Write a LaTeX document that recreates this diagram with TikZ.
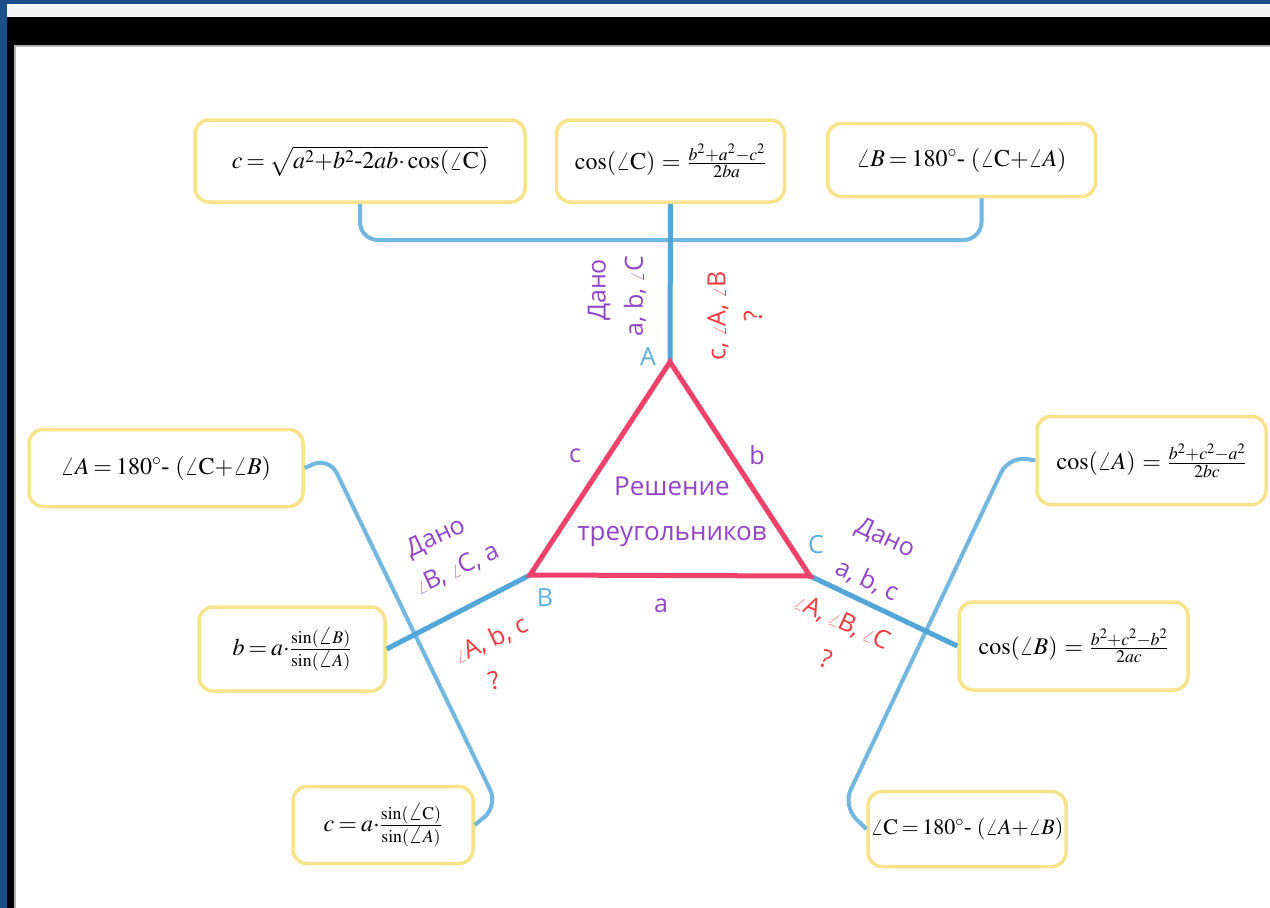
\documentclass[tikz,border=0pt]{standalone}
\usepackage{amsmath}
\usepackage{mathptmx}
\usepackage[no-math]{fontspec}
\setmainfont{Liberation Serif}
\newfontfamily\handfont{Open Sans}
\usetikzlibrary{calc,positioning}
\definecolor{frameblue}{HTML}{1E4E8A}
\definecolor{boxyellow}{HTML}{F6E38C}
\definecolor{linkblue}{HTML}{72B6E2}
\definecolor{spokeblue}{HTML}{52A6DA}
\definecolor{trired}{HTML}{F0416A}
\definecolor{givenpurple}{HTML}{9245C8}
\definecolor{findred}{HTML}{F23B3E}
\definecolor{vertexblue}{HTML}{5EAEDF}
\newcommand{\sang}{{\fontsize{17}{17}\selectfont$\angle$}}
\newcommand{\tightmath}{\thickmuskip=3mu\relax\medmuskip=2mu\relax}
\tikzset{
  formbox/.style={draw=boxyellow,line width=3.5pt,rounded corners=14pt,fill=white,inner sep=0pt,
    font=\fontsize{24}{28}\selectfont\tightmath},
  branch/.style={draw=linkblue,line width=4pt,rounded corners=18pt},
  spoke/.style={draw=spokeblue,line width=5pt},
  handlbl/.style={font=\handfont\fontsize{25}{28}\selectfont,inner sep=0pt},
  givenlbl/.style={handlbl,text=givenpurple},
  findlbl/.style={handlbl,text=findred},
  vertexlbl/.style={handlbl,text=vertexblue},
  sidelbl/.style={handlbl,text=givenpurple}
}
\begin{document}
\begin{tikzpicture}[x=1pt,y=-1pt]
\useasboundingbox (0,0) rectangle (1270,908);
% window frame
\fill[frameblue] (0,0) rectangle (1270,908);
\fill[gray!8] (7,4) rectangle (1270,17);
\fill[black] (7,17) rectangle (1270,46);
\fill[black] (7,17) rectangle (15,908);
\fill[gray!60] (14,45) rectangle (1270,47);
\fill[gray!60] (14,45) rectangle (16,908);
\fill[white] (16,47) rectangle (1270,908);

% triangle
\coordinate (A) at (670,362);
\coordinate (B) at (530,575);
\coordinate (C) at (810,576);

% formula boxes
\node[formbox,minimum width=330,minimum height=82] (cLaw) at (360,161)
  {$c=\sqrt{a^2{+}b^2\text{-}2ab{\cdot}\cos(\angle\mathrm{C})}$};
\node[formbox,minimum width=228,minimum height=82] (cosC) at (670.5,161)
  {$\cos(\angle\mathrm{C})\,=\,\frac{b^2+a^2-c^2}{2ba}$};
\node[formbox,minimum width=268,minimum height=73] (angB) at (961.5,160)
  {$\angle B=180^\circ\text{-}\ (\angle\mathrm{C}{+}\angle A)$};
\node[formbox,minimum width=274,minimum height=77] (angA) at (166,468)
  {$\angle A=180^\circ\text{-}\ (\angle\mathrm{C}{+}\angle B)$};
\node[formbox,minimum width=186,minimum height=84] (sinB) at (292,649)
  {$b=a{\cdot}\frac{\sin(\angle B)}{\sin(\angle A)}$};
\node[formbox,minimum width=180,minimum height=77] (sinC) at (383,825)
  {$c=a{\cdot}\frac{\sin(\angle\mathrm{C})}{\sin(\angle A)}$};
\node[formbox,minimum width=229,minimum height=88] (cosA) at (1151.5,460.5)
  {$\cos(\angle A)\,=\,\frac{b^2+c^2-a^2}{2bc}$};
\node[formbox,minimum width=229,minimum height=88] (cosB) at (1073.5,646)
  {$\cos(\angle B)\,=\,\frac{b^2+c^2-b^2}{2ac}$};
\node[formbox,minimum width=198,minimum height=75,font=\fontsize{22}{26}\selectfont\tightmath] (angC) at (967,829)
  {$\angle\mathrm{C}=180^\circ\text{-}\ (\angle A{+}\angle B)$};

% connectors
\coordinate (topbus) at (670,240);
\coordinate (lbend1) at (329,457);
\coordinate (lbend2) at (498,806);
\coordinate (rbend1) at (1009,456);
\coordinate (rbend2) at (843,806);
\draw[branch] (cLaw.south) |- (topbus) -| ([xshift=20]angB.south);
\draw[branch] (angA.east) -- (lbend1) -- (lbend2) -- (sinC.east);
\draw[branch] (cosA.west) -- (rbend1) -- (rbend2) -- (angC.west);
\draw[spoke] (cosC.south) -- (A);
\draw[spoke] (B) -- (sinB.east);
\draw[spoke] (C) -- (cosB.west);
\draw[trired,line width=5pt,line join=miter] (A) -- (B) -- (C) -- cycle;

% labels
\node[vertexlbl] (labA) at (648,357) {A};
\node[vertexlbl] (labB) at (545,598) {B};
\node[vertexlbl] (labC) at (816,545) {C};
\node[sidelbl] (sidec) at (575,456) {c};
\node[sidelbl] (sideb) at (757,455) {b};
\node[sidelbl] (sidea) at (661,606) {a};
\node[givenlbl,align=center,font=\handfont\fontsize{26}{45}\selectfont] (title) at (672,512)
  {Решение\\треугольников};

\node[givenlbl,rotate=90] (givA) at (599,290) {Дано};
\node[givenlbl,rotate=90] (givAv) at (635,296) {a, b, \sang C};
\node[findlbl,rotate=90] (findA) at (718,316) {c, \sang A, \sang B};
\node[findlbl,rotate=90] (qA) at (753,316) {?};

\node[givenlbl,rotate=25] (givB) at (436,538) {Дано};
\node[givenlbl,rotate=25] (givBv) at (457,569) {\sang B, \sang C, a};
\node[findlbl,rotate=25] (findB) at (491,640) {\sang A, b, c};
\node[findlbl,rotate=15] (qB) at (494,681) {?};

\node[givenlbl,rotate=-25] (givC) at (885,539) {Дано};
\node[givenlbl,rotate=-25] (givCv) at (867,580) {a, b, c};
\node[findlbl,rotate=-25] (findC) at (842,622) {\sang A, \sang B, \sang C};
\node[findlbl,rotate=-20] (qC) at (826,659) {?};
\end{tikzpicture}
\end{document}
